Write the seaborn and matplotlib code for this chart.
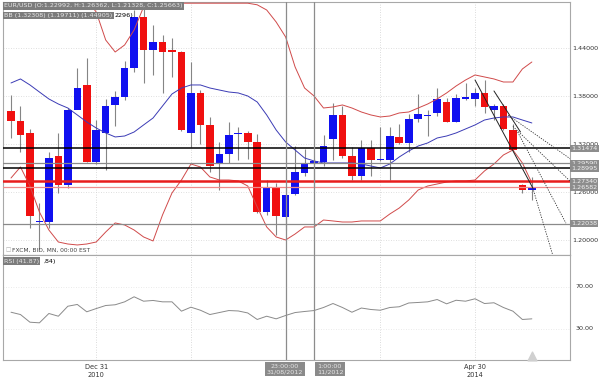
import numpy as np
import pandas as pd
import matplotlib
matplotlib.use("Agg")
import matplotlib.pyplot as plt
import seaborn as sns

# monthly EUR/USD candles, Mar 2010 .. Oct 2014
months = pd.date_range("2010-03-01", periods=56, freq="MS")
opens = [1.3610, 1.3490, 1.3340, 1.2220, 1.2225, 1.3050, 1.2690, 1.3625, 1.3940, 1.2975,
         1.3340, 1.3690, 1.3790, 1.4150, 1.4790, 1.4375, 1.4480, 1.4360, 1.4355, 1.3335,
         1.3840, 1.3440, 1.2950, 1.3075, 1.3320, 1.3340, 1.3230, 1.2355, 1.2667, 1.2290,
         1.2575, 1.2834, 1.2965, 1.2970, 1.3260, 1.3560, 1.3050, 1.2804, 1.3154, 1.2995,
         1.3000, 1.3290, 1.3209, 1.3510, 1.3545, 1.3590, 1.3730, 1.3480, 1.3765, 1.3760,
         1.3840, 1.3625, 1.3675, 1.3375, 1.2690, 1.2628]
highs = [1.3810, 1.3675, 1.3390, 1.2460, 1.3105, 1.3335, 1.3650, 1.4150, 1.4275, 1.3500,
         1.3760, 1.3860, 1.4240, 1.4880, 1.4940, 1.4690, 1.4560, 1.4530, 1.4360, 1.4225,
         1.3870, 1.3540, 1.3225, 1.3475, 1.3410, 1.3360, 1.3330, 1.2745, 1.2710, 1.2640,
         1.3170, 1.3140, 1.3010, 1.3310, 1.3710, 1.3675, 1.3160, 1.3245, 1.3245, 1.3410,
         1.3410, 1.3450, 1.3570, 1.3830, 1.3620, 1.3895, 1.3775, 1.3825, 1.3965, 1.3905,
         1.3995, 1.3700, 1.3700, 1.3445, 1.2700, 1.2790]
lows = [1.3270, 1.3105, 1.2145, 1.1875, 1.2150, 1.2590, 1.2645, 1.3700, 1.2970, 1.2955,
        1.2875, 1.3430, 1.3750, 1.4100, 1.3960, 1.4060, 1.3840, 1.4040, 1.3360, 1.3160,
        1.3200, 1.2850, 1.2625, 1.2960, 1.3000, 1.3010, 1.2340, 1.2315, 1.2060, 1.2130,
        1.2560, 1.2800, 1.2660, 1.2925, 1.3000, 1.3020, 1.2750, 1.2745, 1.2795, 1.2985,
        1.2755, 1.3200, 1.3105, 1.3480, 1.3295, 1.3545, 1.3480, 1.3475, 1.3750, 1.3675,
        1.3585, 1.3505, 1.3370, 1.3110, 1.2590, 1.2500]
closes = [1.3490, 1.3310, 1.2300, 1.2235, 1.3025, 1.2690, 1.3625, 1.3900, 1.2975, 1.3375,
          1.3675, 1.3790, 1.4150, 1.4790, 1.4375, 1.4480, 1.4355, 1.4355, 1.3380, 1.3840,
          1.3437, 1.2925, 1.3075, 1.3310, 1.3330, 1.3230, 1.2355, 1.2655, 1.2300, 1.2560,
          1.2846, 1.2950, 1.2975, 1.3175, 1.3560, 1.3050, 1.2804, 1.3154, 1.3000, 1.3005,
          1.3300, 1.3217, 1.3510, 1.3575, 1.3560, 1.3760, 1.3480, 1.3780, 1.3770, 1.3840,
          1.3660, 1.3675, 1.3390, 1.3125, 1.2625, 1.2640]

# Bollinger bands
bb_mid = [1.3963, 1.4013, 1.3938, 1.3850, 1.3763, 1.3700, 1.3650, 1.3563, 1.3475, 1.3400,
          1.3338, 1.3288, 1.3300, 1.3350, 1.3438, 1.3525, 1.3675, 1.3825, 1.3900, 1.3938,
          1.3938, 1.3900, 1.3875, 1.3850, 1.3838, 1.3800, 1.3725, 1.3563, 1.3375, 1.3225,
          1.3125, 1.3025, 1.2988, 1.2963, 1.2963, 1.2963, 1.2963, 1.2950, 1.2925, 1.2900,
          1.2950, 1.3038, 1.3113, 1.3175, 1.3213, 1.3275, 1.3300, 1.3338, 1.3388, 1.3438,
          1.3500, 1.3525, 1.3538, 1.3538, 1.3500, 1.3463]
bb_upper = [1.5600, 1.5500, 1.5400, 1.5350, 1.5300, 1.5250, 1.5200, 1.5100, 1.5000, 1.4850,
            1.4500, 1.4350, 1.4438, 1.4625, 1.4913, 1.4960, 1.4960, 1.4960, 1.4960, 1.4960,
            1.4960, 1.4960, 1.4960, 1.4960, 1.4960, 1.4960, 1.4940, 1.4875, 1.4725, 1.4538,
            1.4163, 1.3900, 1.3800, 1.3650, 1.3663, 1.3688, 1.3650, 1.3600, 1.3563, 1.3538,
            1.3550, 1.3588, 1.3600, 1.3650, 1.3700, 1.3763, 1.3838, 1.3925, 1.4000, 1.4063,
            1.4038, 1.4013, 1.3975, 1.3975, 1.4138, 1.4225]
bb_lower = [1.2775, 1.2913, 1.2675, 1.2350, 1.2125, 1.1975, 1.1950, 1.1938, 1.1950, 1.1975,
            1.2100, 1.2213, 1.2188, 1.2125, 1.2038, 1.1988, 1.2313, 1.2588, 1.2750, 1.2950,
            1.2913, 1.2788, 1.2750, 1.2750, 1.2738, 1.2675, 1.2413, 1.2163, 1.2038, 1.2000,
            1.2075, 1.2163, 1.2163, 1.2250, 1.2238, 1.2225, 1.2225, 1.2238, 1.2238, 1.2238,
            1.2325, 1.2400, 1.2500, 1.2625, 1.2675, 1.2700, 1.2725, 1.2738, 1.2738, 1.2750,
            1.2863, 1.2950, 1.3063, 1.3125, 1.2963, 1.2713]

rsi = [45.5, 43.3, 36.0, 35.4, 44.3, 41.7, 51.2, 52.9, 45.9, 49.0,
       51.9, 52.6, 55.4, 60.2, 56.0, 56.7, 55.4, 55.4, 46.5, 50.3,
       47.4, 43.3, 45.2, 47.1, 46.7, 44.8, 38.6, 41.7, 39.2, 42.4,
       45.2, 46.2, 47.1, 50.0, 53.8, 50.0, 45.5, 49.5, 48.1, 47.4,
       50.0, 50.7, 54.3, 54.8, 55.4, 57.6, 53.5, 56.9, 56.0, 58.3,
       53.8, 54.5, 50.0, 46.5, 38.6, 39.2]

# horizontal levels (value, label)
level_values = [1.31474, 1.29590, 1.28995, 1.27340, 1.26582, 1.22038]
level_labels = ["1.31474", "1.29590", "1.28995", "1.27340", "1.26582", "1.22038"]
price_ticks = [1.20, 1.26, 1.32, 1.38, 1.44]
rsi_ticks = [30, 70]

# trend lines: (month index start, price start, month index end, price end)
trend_solid = [(49.0, 1.4000, 55.1, 1.2650), (51.0, 1.3863, 53.8, 1.3350)]
trend_dotted = [(55.1, 1.2650, 57.2, 1.1813), (53.0, 1.3420, 62.0, 1.2400),
                (53.5, 1.3350, 58.6, 1.2210), (52.5, 1.3560, 62.0, 1.2770)]

sns.set_style("white")
plt.rcParams["font.family"] = ["DejaVu Sans"]

W, H = 600, 378
fig = plt.figure(figsize=(6, 3.78), dpi=100)
ax = fig.add_axes([3 / W, 1 - 255 / H, 567 / W, 253 / H])
ax2 = fig.add_axes([3 / W, 1 - 360 / H, 567 / W, 105 / H])

x = np.arange(len(months))
o = np.array(opens); c = np.array(closes)
up = c >= o
bottoms = np.minimum(o, c)
heights = np.maximum(np.abs(c - o), 0.0018)
colors = np.where(up, "#1010f0", "#f01010")

xlim = ((3 - 11) / 9.47, (570 - 11) / 9.47)

# grid
for a in (ax, ax2):
    for gx in [9, 19, 29, 39, 49]:
        a.axvline(gx, color="#cfcfcf", lw=0.6, ls=(0, (1, 2)), zorder=0)
for t in price_ticks:
    ax.axhline(t, color="#d5d5d5", lw=0.6, ls=(0, (1, 2)), zorder=0)
for t in rsi_ticks:
    ax2.axhline(t, color="#e3e3e3", lw=0.6, ls=(0, (1, 2)), zorder=0)

# bands
sns.lineplot(x=x, y=bb_upper, ax=ax, color="#d04a4a", lw=0.7, zorder=4)
sns.lineplot(x=x, y=bb_lower, ax=ax, color="#d04a4a", lw=0.7, zorder=4)
sns.lineplot(x=x, y=bb_mid, ax=ax, color="#3b3bb5", lw=0.7, zorder=4)

# candles
ax.vlines(x, lows, highs, color="#858585", lw=0.8, zorder=2)
ax.bar(x, heights, bottom=bottoms, width=0.8, color=colors, lw=0, zorder=3)

# levels
lvl_style = [dict(color="black", lw=1.1), dict(color="#8a8a8a", lw=0.9),
             dict(color="black", lw=1.1), dict(color="#e81c1c", lw=1.8),
             dict(color="#f08a8a", lw=0.9), dict(color="#8a8a8a", lw=0.9)]
for v, st in zip(level_values, lvl_style):
    ax.axhline(v, zorder=5, **st)

# crosshair
for a in (ax, ax2):
    for cx in [29.0, 32.0]:
        a.axvline(cx, color="#8c8c8c", lw=0.9, zorder=6)

# trend lines
for x0, y0, x1, y1 in trend_solid:
    ax.plot([x0, x1], [y0, y1], color="#222222", lw=0.7, zorder=7)
for x0, y0, x1, y1 in trend_dotted:
    ax.plot([x0, x1], [y0, y1], color="#333333", lw=0.6, ls=(0, (1.5, 1.5)), zorder=7)

ax.set_xlim(*xlim)
ax.set_ylim(1.18125, 1.4975)
ax.set_xticks([])
ax.yaxis.tick_right()
ax.set_yticks(price_ticks)
ax.set_yticklabels([f"{t:.5f}" for t in price_ticks], fontsize=4.6, color="#333333")
ax.tick_params(axis="y", length=0, pad=1.5)
ax.set_xlabel(""); ax.set_ylabel("")

# RSI panel
sns.lineplot(x=x, y=rsi, ax=ax2, color="#8a8a8a", lw=0.7)
ax2.set_xlim(*xlim)
ax2.set_ylim(0, 100)
ax2.yaxis.tick_right()
ax2.set_yticks(rsi_ticks[::-1])
ax2.set_yticklabels(["70.00", "30.00"], fontsize=4.6, color="#333333")
ax2.tick_params(axis="y", length=0, pad=4)
ax2.set_xticks([9, 49])
ax2.set_xticklabels(["Dec 31\n2010", "Apr 30\n2014"], fontsize=4.8, color="#333333",
                    linespacing=1.3)
ax2.tick_params(axis="x", length=0, pad=3)
ax2.set_xlabel(""); ax2.set_ylabel("")

for a in (ax, ax2):
    for s in a.spines.values():
        s.set_color("#a8a8a8")
        s.set_linewidth(0.8)
ax.spines["bottom"].set_color("#777777")

# level label boxes in the right margin
box = dict(boxstyle="square,pad=0.18", fc="#8d8d8d", ec="none")
for v, lab in zip(level_values, level_labels):
    ax.text(1.002, v, lab, transform=ax.get_yaxis_transform(), fontsize=4.6,
            color="#f2f2f2", va="center", ha="left", bbox=box, zorder=10, clip_on=False)

# header
hbox = dict(boxstyle="square,pad=0.2", fc="#7c7c7c", ec="none")
fig.text(4 / W, 1 - 6 / H, "EUR/USD (O:1.22992, H:1.26362, L:1.21328, C:1.25663)",
         fontsize=4.6, color="#e6e6e6", va="center", ha="left", bbox=hbox, zorder=20)
fig.text(4 / W, 1 - 15.5 / H, "BB (1.32308) (1.19711) (1.44905)",
         fontsize=4.6, color="#e6e6e6", va="center", ha="left", bbox=hbox, zorder=20)
fig.text(115 / W, 1 - 15.5 / H, "2296)", fontsize=4.6, color="black", va="center", ha="left")
fig.text(6 / W, 1 - 250 / H, "\u25a1", fontsize=4, color="#aaaaaa", va="center", ha="left")
fig.text(12 / W, 1 - 250 / H, "FXCM, BID, MN, 00:00 EST", fontsize=4.3, color="#444444",
         va="center", ha="left")
fig.text(4 / W, 1 - 261 / H, "RSI (41.87)", fontsize=4.6, color="#e6e6e6", va="center",
         ha="left", bbox=hbox, zorder=20)
fig.text(43 / W, 1 - 261 / H, ",84)", fontsize=4.6, color="black", va="center", ha="left")

# crosshair time boxes
tbox = dict(boxstyle="square,pad=0.25", fc="#8a8a8a", ec="none")
fig.text(285 / W, 1 - 369 / H, "23:00:00\n31/08/2012", fontsize=4.6, color="#e6e6e6",
         va="center", ha="center", bbox=tbox, linespacing=1.2, zorder=20)
fig.text(317 / W, 1 - 369 / H, "1:00:00\n11/2012", fontsize=4.6, color="#e6e6e6",
         va="center", ha="left", bbox=tbox, linespacing=1.2, zorder=19)

# small marker at the last bar
ax2.scatter([55.0], [4], marker="^", s=40, color="#d0d0d0", zorder=5, clip_on=False)

fig.savefig("out.png", dpi=100)
